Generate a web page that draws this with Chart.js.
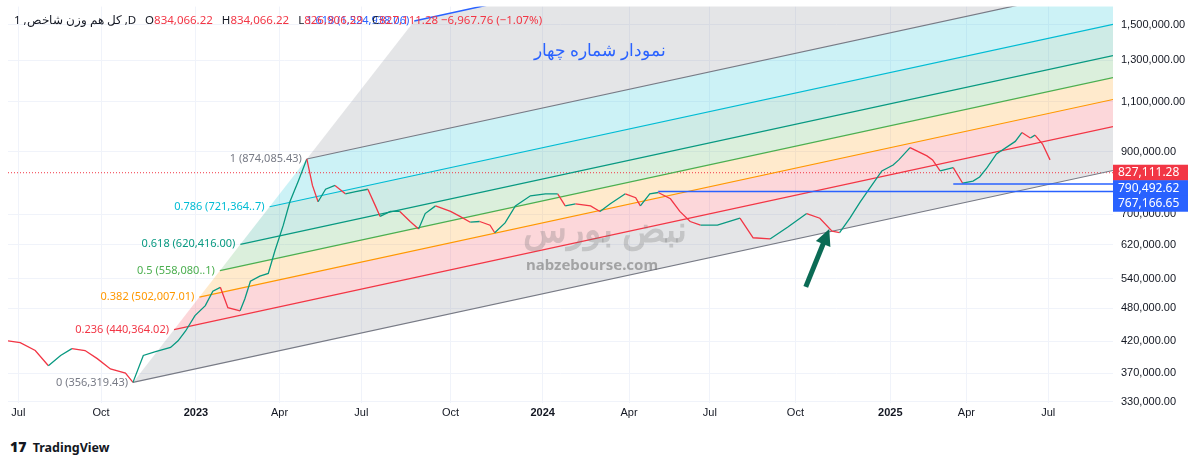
<!DOCTYPE html>
<html>
<head>
<meta charset="utf-8">
<script src="https://cdn.jsdelivr.net/npm/chart.js@4"></script>
<style>
  body { margin:0; background:#fff; font-family:"Noto Sans", Roboto, sans-serif; }
  #wrap { position:relative; width:1200px; height:430px; overflow:hidden; }
  #chart { position:absolute; left:0; top:-8px; }
  #header { position:absolute; left:14px; top:12px; font-size:11.5px; color:#131722; white-space:nowrap; }
  #header .v { color:#f23645; margin-right:6px; }
  #title { position:absolute; left:520px; top:38px; width:160px; text-align:center; font-size:17px; color:#2962ff; direction:rtl; }
  #logo { position:absolute; left:10px; top:437px; font-size:12.5px; font-weight:bold; color:#131722; }
  #logo b { font-size:14px; margin-right:3px; }
</style>
</head>
<body>
<div id="wrap">
  <canvas id="chart" width="1200" height="438"></canvas>
  <div id="header">1 ,کل هم وزن شاخص ,D&nbsp;&nbsp; O<span class="v">834,066.22</span> H<span class="v">834,066.22</span> L<span class="v">826,906.29</span> C<span class="v">827,111.28 −6,967.76 (−1.07%)</span></div>
  <div id="title">نمودار شماره چهار</div>
</div>
<div id="logo"><b>17</b> TradingView</div>
<script>
// price path (x = day from Jul 2022)
const priceDays = [-11,2,18,32,45,57,71,84,98,114,122,133,146,162,170,178,188,199,207,215,223,236,241,247,257,266,273,282,289,298,307,313,319,327,337,348,359,372,380,385,396,406,417,426,433,444,460,470,481,491,502,507,518,529,545,561,574,582,593,609,619,630,646,657,662,672,681,694,704,715,726,744,768,782,800,819,839,853,866,874,885,896,906,919,931,937,949,967,973,981,995,1005,1016,1023,1031,1041,1061,1068,1077,1082,1090,1098];
const priceValues = [421000,418000,405000,381000,397000,408000,405000,392000,376000,370000,356319,397000,403000,410000,421000,438000,466000,485000,514000,522000,481000,475000,498000,535000,546000,552000,604000,670000,736000,800000,874085,786000,736000,774000,786000,760000,767000,774000,724000,694000,708000,708000,680000,660000,702000,724000,708000,694000,678000,680000,670000,650000,676000,724000,754000,760000,760000,724000,730000,724000,708000,730000,760000,748000,724000,760000,764000,745000,708000,680000,670000,670000,689000,637000,634000,665000,702000,689000,654000,650000,689000,736000,777000,833000,853000,871000,915000,885000,871000,833000,844000,793000,800000,813000,844000,892000,938000,972000,951000,962000,928000,871000,827111];

const xTickDays = [0,88,189,278,365,460,558,650,736,827,928,1009,1096];
const xTickLabels = ["Jul","Oct","2023","Apr","Jul","Oct","2024","Apr","Jul","Oct","2025","Apr","Jul"];
const yTicks = [330000,370000,420000,480000,540000,620000,700000,900000,1100000,1300000,1500000];

// fib channel
const fibA = {day:122, value:356319.43};
const fibC = {day:307, value:874085.43};
const fibSlope = 0.000816;      // ln per day
const fibLevels = [0,0.236,0.382,0.5,0.618,0.786,1,1.618];
const fibColors = ["#787b86","#f23645","#ff9800","#4caf50","#089981","#00bcd4","#787b86","#2962ff"];
const fibLabels = ["0 (356,319.43)","0.236 (440,364.02)","0.382 (502,007.01)","0.5 (558,080..1)","0.618 (620,416.00)","0.786 (721,364..7)","1 (874,085.43)","1.618 (1,524,938.06)"];
const xEnd = 1165;

const hLines = [{value:767166.65, from:681}, {value:790492.62, from:995}];
const lastPrice = 827111.28;
const arrow = {from:{day:838, value:523000}, to:{day:863, value:660000}};

const lnA = Math.log(fibA.value), lnSpan = Math.log(fibC.value) - lnA;
const fibLines = fibLevels.map(L => {
  const d0 = fibA.day + L * (fibC.day - fibA.day);
  const ln0 = lnA + L * lnSpan;
  return [{x:d0, y:Math.exp(ln0)}, {x:xEnd, y:Math.exp(ln0 + fibSlope * (xEnd - d0))}];
});

function rgba(hex, a) {
  const n = parseInt(hex.slice(1), 16);
  return `rgba(${n>>16},${(n>>8)&255},${n&255},${a})`;
}

const fibPlugin = {
  id: "fib",
  beforeDatasetsDraw(chart) {
    const {ctx, chartArea:a, scales:{x, y}} = chart;
    ctx.save();
    ctx.beginPath(); ctx.rect(a.left, a.top, a.right - a.left, a.bottom - a.top); ctx.clip();
    for (let i = 0; i < fibLines.length - 1; i++) {
      const p = fibLines[i], q = fibLines[i+1];
      ctx.beginPath();
      ctx.moveTo(x.getPixelForValue(p[0].x), y.getPixelForValue(p[0].y));
      ctx.lineTo(x.getPixelForValue(p[1].x), y.getPixelForValue(p[1].y));
      ctx.lineTo(x.getPixelForValue(q[1].x), y.getPixelForValue(q[1].y));
      ctx.lineTo(x.getPixelForValue(q[0].x), y.getPixelForValue(q[0].y));
      ctx.closePath();
      ctx.fillStyle = rgba(fibColors[i], 0.2);
      ctx.fill();
    }
    // last price dotted line
    const yp = y.getPixelForValue(lastPrice);
    ctx.setLineDash([1,2]); ctx.strokeStyle = "#f23645"; ctx.lineWidth = 1;
    ctx.beginPath(); ctx.moveTo(a.left, yp); ctx.lineTo(a.right, yp); ctx.stroke();
    ctx.restore();
  },
  afterDatasetsDraw(chart) {
    const {ctx, chartArea:a, scales:{x, y}} = chart;
    ctx.save();
    ctx.font = "11px 'Noto Sans', sans-serif";
    ctx.textAlign = "right"; ctx.textBaseline = "middle";
    fibLines.forEach((l, i) => {
      ctx.fillStyle = fibColors[i];
      ctx.fillText(fibLabels[i], x.getPixelForValue(l[0].x) - 5, y.getPixelForValue(l[0].y));
    });
    // horizontal lines
    ctx.strokeStyle = "#2962ff"; ctx.lineWidth = 1.5;
    hLines.forEach(h => {
      const yy = y.getPixelForValue(h.value);
      ctx.beginPath(); ctx.moveTo(x.getPixelForValue(h.from), yy); ctx.lineTo(a.right + 4, yy); ctx.stroke();
    });
    // arrow
    const x1 = x.getPixelForValue(arrow.from.day), y1 = y.getPixelForValue(arrow.from.value);
    const x2 = x.getPixelForValue(arrow.to.day), y2 = y.getPixelForValue(arrow.to.value);
    const ang = Math.atan2(y2 - y1, x2 - x1);
    ctx.strokeStyle = "#0b6b55"; ctx.fillStyle = "#0b6b55"; ctx.lineWidth = 5;
    ctx.beginPath(); ctx.moveTo(x1, y1); ctx.lineTo(x2 - 12*Math.cos(ang), y2 - 12*Math.sin(ang)); ctx.stroke();
    ctx.beginPath(); ctx.moveTo(x2, y2);
    ctx.lineTo(x2 - 18*Math.cos(ang - 0.45), y2 - 18*Math.sin(ang - 0.45));
    ctx.lineTo(x2 - 18*Math.cos(ang + 0.45), y2 - 18*Math.sin(ang + 0.45));
    ctx.closePath(); ctx.fill();
    // watermark
    ctx.textAlign = "center";
    ctx.fillStyle = "rgba(110,110,110,0.28)"; ctx.font = "bold 36px 'Noto Sans', sans-serif";
    ctx.fillText("نبض بورس", 605, 240);
    ctx.fillStyle = "rgba(110,110,110,0.55)"; ctx.font = "bold 15px 'Noto Sans', sans-serif";
    ctx.fillText("nabzebourse.com", 592, 274);
    // price labels on axis
    const boxes = [
      {v:lastPrice, c:"#f23645"},
      {v:hLines[1].value, c:"#2962ff"},
      {v:hLines[0].value, c:"#2962ff"}
    ];
    let prev = -100;
    ctx.font = "12px 'Noto Sans', sans-serif"; ctx.textAlign = "left";
    boxes.forEach(b => {
      let yy = Math.max(y.getPixelForValue(b.v), prev + 15.5);
      prev = yy;
      ctx.fillStyle = b.c; ctx.fillRect(a.right, yy - 8, 75, 16);
      ctx.fillStyle = "#fff";
      ctx.fillText(b.v.toLocaleString("en-US", {minimumFractionDigits:2}), a.right + 5, yy);
    });
    ctx.restore();
  }
};

const datasets = [{
  data: priceDays.map((d, i) => ({x:d, y:priceValues[i]})),
  borderWidth: 1.3, pointRadius: 0, tension: 0,
  segment: { borderColor: c => c.p1.parsed.y >= c.p0.parsed.y ? "#089981" : "#f23645" },
  order: 0
}];
fibLines.forEach((l, i) => datasets.push({
  data: l, borderColor: fibColors[i], borderWidth: i === 7 ? 1.5 : 1.2, pointRadius: 0, order: 1
}));

new Chart(document.getElementById("chart"), {
  type: "line",
  data: { datasets },
  plugins: [fibPlugin],
  options: {
    responsive: false, animation: false,
    layout: { padding: { left: 8, top: 5, right: 0, bottom: 0 } },
    plugins: { legend: { display: false }, tooltip: { enabled: false } },
    scales: {
      x: {
        type: "linear", min: -11, max: xEnd,
        afterBuildTicks: s => { s.ticks = xTickDays.map(v => ({value:v})); },
        afterFit: s => { s.height = 27; },
        ticks: {
          autoSkip: false, maxRotation: 0, color: "#131722",
          font: c => ({ size: 11, weight: /^\d{4}$/.test(xTickLabels[c.index]) ? "bold" : "normal" }),
          callback: (v, i) => xTickLabels[i]
        },
        grid: { color: "#f0f3fa", drawTicks: false }, border: { display: false }
      },
      y: {
        type: "logarithmic", position: "right", min: 328000, max: 1612000,
        afterBuildTicks: s => { s.ticks = yTicks.map(v => ({value:v})); },
        afterFit: s => { s.width = 87; },
        ticks: { color: "#131722", font: { size: 11 }, padding: 8,
          callback: v => Number(v).toLocaleString("en-US", {minimumFractionDigits:2}) },
        grid: { color: "#f0f3fa", drawTicks: false }, border: { display: false }
      }
    }
  }
});
</script>
</body>
</html>
